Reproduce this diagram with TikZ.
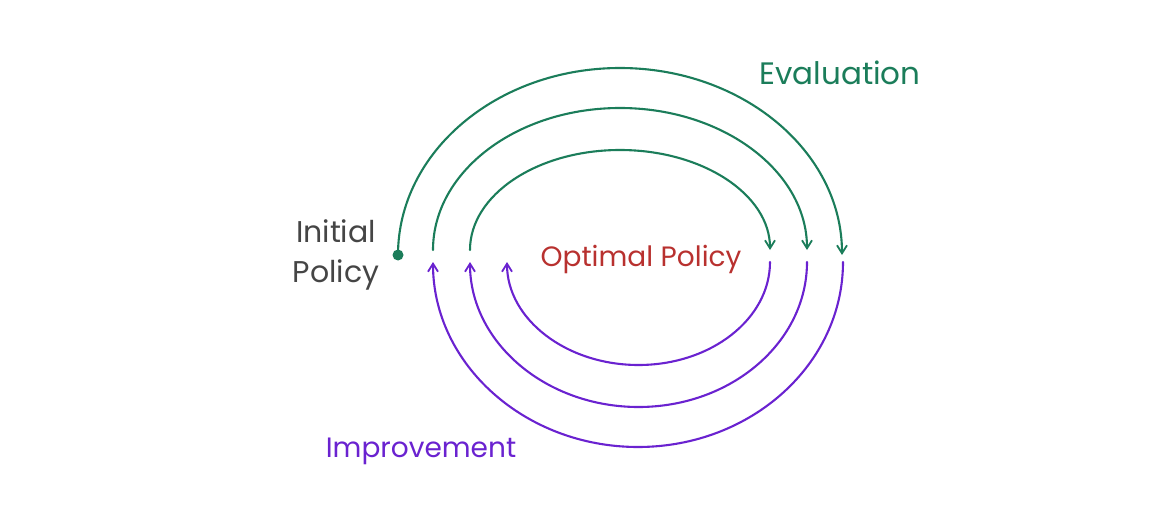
\documentclass[tikz,border=0pt]{standalone}
\usepackage{fontspec}
\setmainfont{Poppins}
\usetikzlibrary{arrows.meta}
\definecolor{evalgreen}{HTML}{1B7D5A}
\definecolor{imppurple}{HTML}{6A22D0}
\definecolor{optred}{HTML}{B8312F}
\definecolor{initgray}{HTML}{454545}
\tikzset{
  evalarc/.style={draw=evalgreen, line width=2.1pt, line cap=round, -{Straight Barb[length=8pt,width=10pt,line width=1.8pt]}},
  imparc/.style={draw=imppurple, line width=2.1pt, line cap=round, -{Straight Barb[length=8pt,width=10pt,line width=1.8pt]}},
  lbl/.style={font=\fontsize{28}{40}\selectfont, inner sep=0pt, align=center}
}
\begin{document}
\begin{tikzpicture}[x=1pt,y=1pt]
\useasboundingbox (0,0) rectangle (1160,-524);
% start points
\coordinate (g1s) at (398,-255);
\coordinate (g2s) at (433,-250);
\coordinate (g3s) at (470,-250);
\coordinate (p1s) at (843,-262);
\coordinate (p2s) at (807,-262);
\coordinate (p3s) at (770,-262);
% labels
\node[lbl, text=initgray, font=\fontsize{30}{40}\selectfont] (init) at (336,-255) {Initial\\Policy};
\node[lbl, text=optred] (opt) at (641,-259) {Optimal Policy};
\node[lbl, text=evalgreen, font=\fontsize{31}{40}\selectfont] (eval) at (840,-73) {Evaluation};
\node[lbl, text=imppurple] (imp) at (421,-451) {Improvement};
% evaluation arcs (top)
\draw[evalarc] (g1s) arc[start angle=180, end angle=0, x radius=222, y radius=187];
\draw[evalarc] (g2s) arc[start angle=180, end angle=0, x radius=187, y radius=142];
\draw[evalarc] (g3s) arc[start angle=180, end angle=0, x radius=150, y radius=100];
% improvement arcs (bottom)
\draw[imparc] (p1s) arc[start angle=0, end angle=-180, x radius=205, y radius=185];
\draw[imparc] (p2s) arc[start angle=0, end angle=-180, x radius=168.5, y radius=145];
\draw[imparc] (p3s) arc[start angle=0, end angle=-180, x radius=131.5, y radius=103];
% initial dot
\fill[evalgreen] (g1s) circle (5.5);
\end{tikzpicture}
\end{document}
